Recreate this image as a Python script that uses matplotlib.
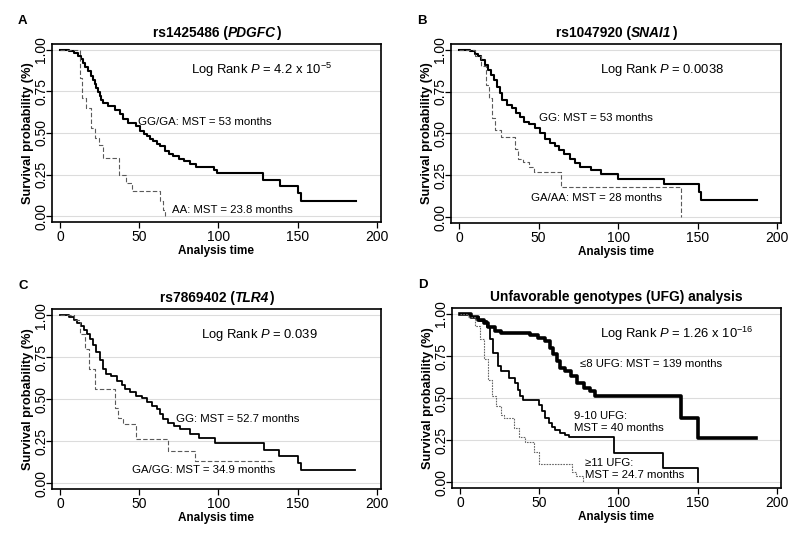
import matplotlib
matplotlib.use('Agg')
import matplotlib.pyplot as plt
from matplotlib.offsetbox import TextArea, HPacker, AnchoredOffsetbox

plt.rcParams['font.family'] = ['Liberation Sans', 'DejaVu Sans']
plt.rcParams['mathtext.fontset'] = 'custom'
plt.rcParams['mathtext.rm'] = 'Liberation Sans'
plt.rcParams['mathtext.it'] = 'Liberation Sans:italic'
plt.rcParams['mathtext.bf'] = 'Liberation Sans:bold'

# ---- data (time in months, survival) ----
a_gg_t = [0, 6, 9, 11.5, 13, 14.7, 16, 17.9, 19.5, 21, 22, 23, 24, 25, 26, 27, 30.5, 34.5, 38, 40,
          43, 48, 50.5, 53, 55, 57, 59, 61, 63, 66, 69, 71.5, 75, 78, 82, 86, 97, 99, 128, 139, 150, 152, 187]
a_gg_s = [1.0, 0.99, 0.98, 0.965, 0.945, 0.92, 0.895, 0.87, 0.845, 0.82, 0.795, 0.77, 0.745, 0.72, 0.70, 0.68,
          0.66, 0.64, 0.615, 0.585, 0.56, 0.54, 0.51, 0.495, 0.48, 0.465, 0.45, 0.435, 0.42, 0.39, 0.375, 0.36,
          0.345, 0.33, 0.315, 0.295, 0.28, 0.26, 0.22, 0.18, 0.14, 0.09, 0.09]
a_aa_t = [0, 12.5, 14, 16.5, 19.5, 22, 24.5, 27, 37, 42, 45.5, 63, 65, 66.5]
a_aa_s = [1.0, 0.83, 0.71, 0.65, 0.53, 0.47, 0.43, 0.35, 0.25, 0.20, 0.15, 0.09, 0.04, 0.0]

b_gg_t = [0, 7, 10, 12, 14, 16, 18, 20, 22, 24, 25.5, 27, 30, 33, 36, 38.5, 41, 44, 48, 51,
          54, 57, 60, 63, 66, 70, 73, 76, 83, 89, 100, 129, 151, 152, 187]
b_gg_s = [1.0, 0.99, 0.975, 0.96, 0.94, 0.91, 0.88, 0.85, 0.82, 0.78, 0.74, 0.70, 0.67, 0.65, 0.62, 0.60,
          0.57, 0.555, 0.53, 0.50, 0.47, 0.445, 0.425, 0.40, 0.375, 0.345, 0.325, 0.30, 0.28, 0.26, 0.23,
          0.20, 0.15, 0.10, 0.10]
b_ga_t = [0, 10, 14, 17, 19, 20.5, 22.5, 26, 35, 37, 40, 44, 47, 64, 139.5]
b_ga_s = [1.0, 0.96, 0.90, 0.79, 0.71, 0.59, 0.52, 0.48, 0.41, 0.35, 0.33, 0.30, 0.27, 0.18, 0.0]

c_gg_t = [0, 6, 9, 11, 13, 15, 17, 19, 21, 23, 25, 27, 29, 32, 36, 39, 41, 44, 48, 52,
          55, 58, 61, 63, 65, 68, 72, 76, 82, 88, 98, 129, 138, 150, 152, 186]
c_gg_s = [1.0, 0.99, 0.97, 0.955, 0.935, 0.91, 0.885, 0.86, 0.82, 0.78, 0.73, 0.68, 0.65, 0.635, 0.61,
          0.585, 0.56, 0.54, 0.52, 0.505, 0.48, 0.46, 0.44, 0.41, 0.38, 0.36, 0.34, 0.32, 0.29, 0.27,
          0.24, 0.20, 0.16, 0.12, 0.08, 0.08]
c_ga_t = [0, 9, 12.5, 16, 18.5, 22, 34.5, 36.5, 40, 48, 68.5, 85.5, 135]
c_ga_s = [1.0, 0.97, 0.89, 0.80, 0.68, 0.56, 0.45, 0.39, 0.35, 0.26, 0.19, 0.13, 0.13]

d_le8_t = [0, 7, 11.5, 15, 18, 22, 26, 44, 49, 54, 57, 59, 61, 63, 66, 70, 74, 78, 82, 85, 139.5, 150.5, 187]
d_le8_s = [1.0, 0.98, 0.965, 0.945, 0.925, 0.90, 0.885, 0.875, 0.86, 0.84, 0.80, 0.76, 0.72, 0.68, 0.66,
           0.63, 0.59, 0.56, 0.54, 0.515, 0.38, 0.26, 0.26]
d_910_t = [0, 7, 12, 17, 19, 21, 24, 26, 31, 34.5, 36.5, 38, 40, 50, 52, 54, 56, 58, 60, 63,
           66, 69, 97.5, 128, 150.5]
d_910_s = [1.0, 0.98, 0.96, 0.92, 0.85, 0.77, 0.69, 0.66, 0.62, 0.59, 0.55, 0.51, 0.49, 0.46, 0.42,
           0.38, 0.35, 0.33, 0.31, 0.29, 0.28, 0.27, 0.175, 0.085, 0.0]
d_ge11_t = [0, 5, 9.5, 12.5, 15.5, 18, 20, 23, 26, 28, 34, 37, 41, 47, 50, 70.5, 73, 77.5]
d_ge11_s = [1.0, 0.98, 0.93, 0.85, 0.73, 0.61, 0.51, 0.45, 0.40, 0.38, 0.32, 0.27, 0.24, 0.18, 0.11,
            0.06, 0.035, 0.0]

x_ticks = [0, 50, 100, 150, 200]
y_ticks = [0.0, 0.25, 0.5, 0.75, 1.0]
y_ticklabels = ['0.00', '0.25', '0.50', '0.75', '1.00']


def setup_axes(ax, letter, title_parts):
    ax.set_xlim(-5, 202.5)
    ax.set_ylim(-0.035, 1.035)
    for y in y_ticks:
        ax.axhline(y, color='#dcdcdc', lw=0.8, zorder=0)
    ax.set_xticks(x_ticks)
    ax.set_yticks(y_ticks)
    ax.set_yticklabels(y_ticklabels, rotation=90, va='center')
    ax.tick_params(labelsize=10, length=4, width=0.9, direction='out')
    ax.tick_params(axis='x', pad=1.5)
    ax.tick_params(axis='y', pad=-1.2)
    for sp in ax.spines.values():
        sp.set_linewidth(1.2)
    ax.set_xlabel('Analysis time', fontsize=8.5, fontweight='bold', labelpad=1)
    ax.set_ylabel('Survival probability (%)', fontsize=9.2, fontweight='bold', labelpad=0)
    ax.text(-0.103, 1.13, letter, transform=ax.transAxes, fontsize=9.5, fontweight='bold',
            va='center', ha='left')
    # title with a bold-italic gene name
    boxes = [TextArea(txt, textprops=dict(fontsize=9.9, fontweight='bold', fontstyle=sty))
             for txt, sty in title_parts]
    pack = HPacker(children=boxes, align='baseline', pad=0, sep=0)
    anch = AnchoredOffsetbox(loc='lower center', child=pack, pad=0, frameon=False,
                             bbox_to_anchor=(0.5, 1.022), bbox_transform=ax.transAxes,
                             borderpad=0)
    ax.add_artist(anch)


fig = plt.figure(figsize=(8, 5.35), dpi=100)
ax_a = fig.add_axes([0.065, 0.585, 0.411, 0.333])
ax_b = fig.add_axes([0.564, 0.583, 0.4125, 0.335])
ax_c = fig.add_axes([0.065, 0.086, 0.411, 0.336])
ax_d = fig.add_axes([0.565, 0.088, 0.411, 0.336])

dash_grey = '#5a5a5a'

# ---- A ----
ax = ax_a
setup_axes(ax, 'A', [('rs1425486 (', 'normal'), ('PDGFC', 'italic'), (')', 'normal')])
ax.step(a_gg_t, a_gg_s, where='post', color='black', lw=1.5)
ax.step(a_aa_t, a_aa_s, where='post', color=dash_grey, lw=0.8, ls=(0, (4, 2)))
ax.text(83, 0.88, r'Log Rank $P$ = 4.2 x 10$^{-5}$', fontsize=9.4, va='center')
ax.text(49, 0.565, 'GG/GA: MST = 53 months', fontsize=8.2, va='center')
ax.text(70.5, 0.04, 'AA: MST = 23.8 months', fontsize=8.2, va='center')

# ---- B ----
ax = ax_b
setup_axes(ax, 'B', [('rs1047920 (', 'normal'), ('SNAI1', 'italic'), (')', 'normal')])
ax.step(b_gg_t, b_gg_s, where='post', color='black', lw=1.5)
ax.step(b_ga_t, b_ga_s, where='post', color=dash_grey, lw=0.8, ls=(0, (4, 2)))
ax.text(88.5, 0.88, r'Log Rank $P$ = 0.0038', fontsize=9.4, va='center')
ax.text(50.5, 0.595, 'GG: MST = 53 months', fontsize=8.2, va='center')
ax.text(45, 0.115, 'GA/AA: MST = 28 months', fontsize=8.2, va='center')

# ---- C ----
ax = ax_c
setup_axes(ax, 'C', [('rs7869402 (', 'normal'), ('TLR4', 'italic'), (')', 'normal')])
ax.step(c_gg_t, c_gg_s, where='post', color='black', lw=1.3)
ax.step(c_ga_t, c_ga_s, where='post', color=dash_grey, lw=0.8, ls=(0, (4, 2)))
ax.text(89, 0.88, r'Log Rank $P$ = 0.039', fontsize=9.4, va='center')
ax.text(73.5, 0.38, 'GG: MST = 52.7 months', fontsize=8.2, va='center')
ax.text(45.5, 0.08, 'GA/GG: MST = 34.9 months', fontsize=8.2, va='center')

# ---- D ----
ax = ax_d
setup_axes(ax, 'D', [('Unfavorable genotypes (UFG) analysis', 'normal')])
ax.step(d_le8_t, d_le8_s, where='post', color='black', lw=2.6)
ax.step(d_910_t, d_910_s, where='post', color='black', lw=1.3)
ax.step(d_ge11_t, d_ge11_s, where='post', color='#666666', lw=0.8, ls=(0, (1.5, 1)))
ax.text(88.5, 0.88, r'Log Rank $P$ = 1.26 x 10$^{-16}$', fontsize=9.4, va='center')
ax.text(76, 0.705, '≤8 UFG: MST = 139 months', fontsize=8.2, va='center')
ax.text(72, 0.355, '9-10 UFG:\nMST = 40 months', fontsize=8.2, va='center', linespacing=1.25)
ax.text(79, 0.078, '≥11 UFG:\nMST = 24.7 months', fontsize=8.2, va='center', linespacing=1.25)

fig.savefig('out.png', dpi=100, facecolor='white')
